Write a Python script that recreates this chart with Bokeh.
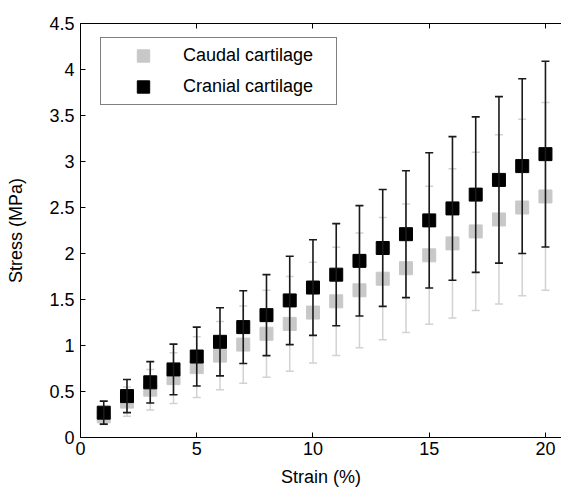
from bokeh.plotting import figure
from bokeh.models import (ColumnDataSource, Whisker, TeeHead, LinearAxis, FixedTicker,
                          Legend, LegendItem, Range1d)
from bokeh.embed import file_html
from bokeh.resources import INLINE

# ---- data ----
strain = list(range(1, 21))
caudal_mean = [0.23, 0.39, 0.52, 0.645, 0.765, 0.89, 1.01, 1.128, 1.235, 1.358,
               1.48, 1.60, 1.726, 1.84, 1.98, 2.11, 2.24, 2.37, 2.50, 2.62]
caudal_sd = [0.09, 0.16, 0.22, 0.275, 0.33, 0.37, 0.42, 0.472, 0.515, 0.548,
             0.588, 0.624, 0.664, 0.698, 0.75, 0.81, 0.86, 0.92, 0.96, 1.02]
cranial_mean = [0.27, 0.45, 0.60, 0.74, 0.88, 1.04, 1.20, 1.33, 1.49, 1.63,
                1.77, 1.92, 2.06, 2.21, 2.36, 2.49, 2.64, 2.80, 2.95, 3.08]
cranial_sd = [0.125, 0.18, 0.225, 0.275, 0.32, 0.37, 0.395, 0.44, 0.48, 0.52,
              0.555, 0.60, 0.635, 0.69, 0.735, 0.78, 0.845, 0.905, 0.95, 1.01]
x_ticks = [0, 5, 10, 15, 20]
y_ticks = [0, 0.5, 1, 1.5, 2, 2.5, 3, 3.5, 4, 4.5]
y_tick_labels = ["0", "0.5", "1", "1.5", "2", "2.5", "3", "3.5", "4", "4.5"]
series_names = ["Caudal cartilage", "Cranial cartilage"]

FONT = "Liberation Sans"
FS = "18px"

caudal = ColumnDataSource(dict(
    x=strain, y=caudal_mean,
    upper=[m + s for m, s in zip(caudal_mean, caudal_sd)],
    lower=[m - s for m, s in zip(caudal_mean, caudal_sd)]))
cranial = ColumnDataSource(dict(
    x=strain, y=cranial_mean,
    upper=[m + s for m, s in zip(cranial_mean, cranial_sd)],
    lower=[m - s for m, s in zip(cranial_mean, cranial_sd)]))

p = figure(width=561, height=491, x_range=Range1d(0, 20.69), y_range=Range1d(0, 4.5),
           output_backend="svg", toolbar_location=None,
           min_border_left=80, min_border_right=0, min_border_top=23, min_border_bottom=54)
p.outline_line_color = None
p.xgrid.visible = False
p.ygrid.visible = False
p.background_fill_color = "white"
p.border_fill_color = "white"

# error bars + markers
gray_w = Whisker(base="x", upper="upper", lower="lower", source=caudal, level="underlay",
                 line_color="#d2d2d2", line_width=1.5,
                 upper_head=TeeHead(size=8, line_color="#d2d2d2", line_width=1.5),
                 lower_head=TeeHead(size=8, line_color="#d2d2d2", line_width=1.5))
p.add_layout(gray_w)
r_caudal = p.scatter("x", "y", source=caudal, marker="square", size=13,
                     fill_color="#c8c8c8", line_color="#c8c8c8")
black_w = Whisker(base="x", upper="upper", lower="lower", source=cranial, level="glyph",
                  line_color="#1a1a1a", line_width=1.6,
                  upper_head=TeeHead(size=8, line_color="#1a1a1a", line_width=1.6),
                  lower_head=TeeHead(size=8, line_color="#1a1a1a", line_width=1.6))
p.add_layout(black_w)
r_cranial = p.scatter("x", "y", source=cranial, marker="square", size=13,
                      fill_color="black", line_color="black")

# axes
def style_axis(ax):
    ax.axis_line_color = "black"
    ax.axis_line_width = 1
    ax.major_tick_in = 5
    ax.major_tick_out = 0
    ax.minor_tick_line_color = None
    ax.major_tick_line_color = "black"
    ax.major_label_text_font = FONT
    ax.major_label_text_font_size = FS
    ax.major_label_text_color = "black"
    ax.axis_label_text_font = FONT
    ax.axis_label_text_font_size = FS
    ax.axis_label_text_font_style = "normal"
    ax.axis_label_text_color = "black"

xa = p.xaxis[0]
style_axis(xa)
xa.ticker = FixedTicker(ticks=x_ticks)
xa.axis_label = "Strain (%)"
xa.major_label_standoff = 4
xa.axis_label_standoff = 9

ya = p.yaxis[0]
style_axis(ya)
ya.ticker = FixedTicker(ticks=y_ticks)
ya.major_label_overrides = {t: l for t, l in zip(y_ticks, y_tick_labels)}
ya.axis_label = "Stress (MPa)"
ya.major_label_standoff = 6
ya.axis_label_standoff = 20

top = LinearAxis(ticker=FixedTicker(ticks=x_ticks))
style_axis(top)
top.major_label_text_font_size = "10px"
top.major_label_text_color = None
top.major_label_standoff = 0
p.add_layout(top, "above")

# legend
legend = Legend(items=[LegendItem(label=series_names[0], renderers=[r_caudal]),
                       LegendItem(label=series_names[1], renderers=[r_cranial])],
                location=(20, 332), orientation="vertical",
                padding=2, spacing=0, glyph_width=80, glyph_height=31,
                label_standoff=0, label_width=151, label_height=31,
                label_text_font=FONT, label_text_font_size=FS, label_text_color="black",
                border_line_color="black", border_line_width=1,
                background_fill_color="white", background_fill_alpha=1.0)
p.add_layout(legend, "center")

open("out.html", "w").write(file_html(p, INLINE))
